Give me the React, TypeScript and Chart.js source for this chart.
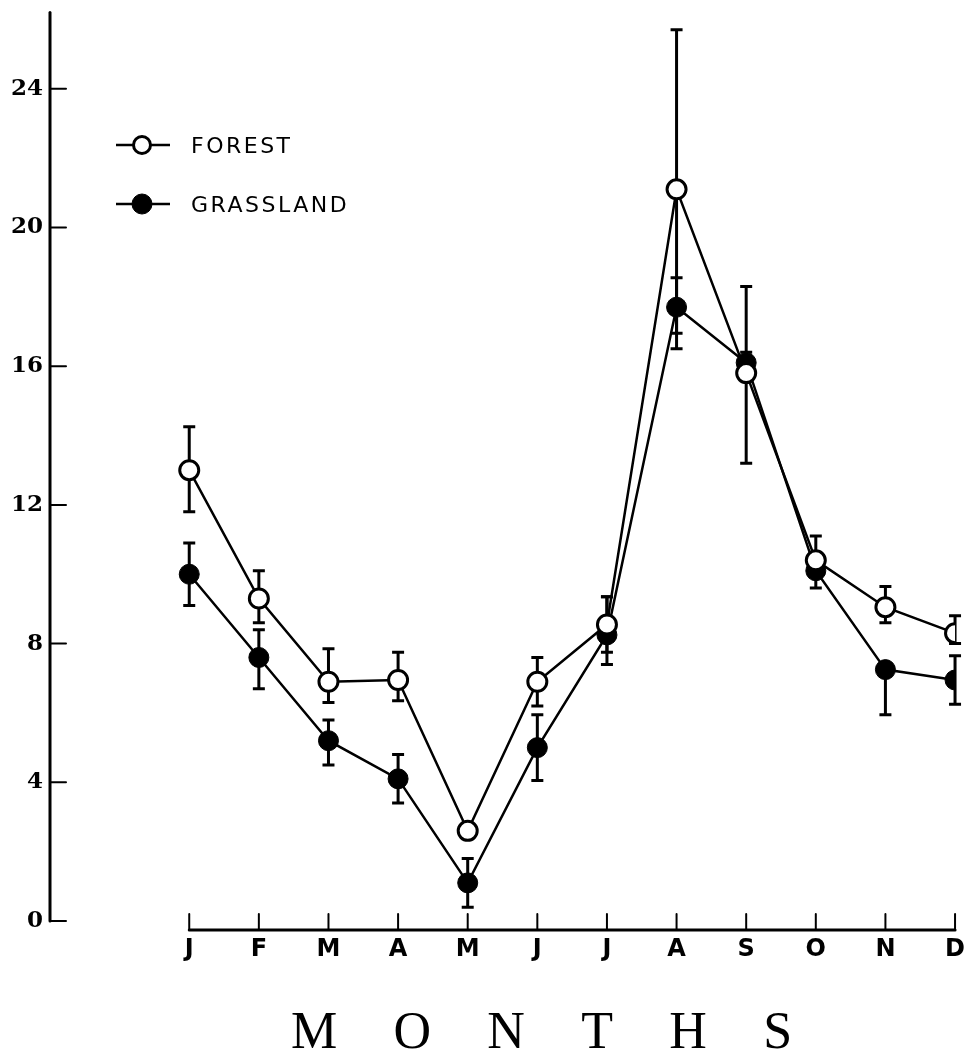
import React, { useEffect, useRef } from "react";
import { Chart, registerables } from "chart.js";

Chart.register(...registerables);

const months = ["J", "F", "M", "A", "M", "J", "J", "A", "S", "O", "N", "D"];
const yTicks = [0, 4, 8, 12, 16, 20, 24];
const yAxisTop = 26.2;
const xTitle = "\u2003\u2002M\u2003\u200AO\u2003\u200AN\u2003\u200AT\u2003\u200AH\u2003\u200AS";

const forest = [13.0, 9.3, 6.9, 6.95, 2.6, 6.9, 8.55, 21.1, 15.8, 10.4, 9.05, 8.3];
const forestErrHi = [1.25, 0.8, 0.95, 0.8, 0, 0.7, 0.8, 4.6, 2.5, 0.7, 0.6, 0.5];
const forestErrLo = [1.2, 0.7, 0.6, 0.6, 0, 0.7, 0.8, 4.6, 2.6, 0.3, 0.45, 0.3];

const grassland = [10.0, 7.6, 5.2, 4.1, 1.1, 5.0, 8.25, 17.7, 16.1, 10.1, 7.25, 6.95];
const grassErrHi = [0.9, 0.8, 0.6, 0.7, 0.7, 0.95, 1.1, 0.85, 0.3, 0.3, 0, 0.7];
const grassErrLo = [0.9, 0.9, 0.7, 0.7, 0.7, 0.95, 0.85, 0.75, 0.3, 0.5, 1.3, 0.7];

const seriesNames = ["FOREST", "GRASSLAND"];

const errHi = [forestErrHi, grassErrHi];
const errLo = [forestErrLo, grassErrLo];

const axesPlugin = {
  id: "handAxes",
  beforeDatasetsDraw(chart: any) {
    const { ctx, chartArea, scales } = chart;
    const x = scales.x;
    const y = scales.y;
    ctx.save();
    ctx.strokeStyle = "#000";
    ctx.lineCap = "round";
    const line = (x1: number, y1: number, x2: number, y2: number, w: number) => {
      ctx.lineWidth = w;
      ctx.beginPath();
      ctx.moveTo(x1, y1);
      ctx.lineTo(x2, y2);
      ctx.stroke();
    };
    const ax = chartArea.left;
    line(ax, y.getPixelForValue(yAxisTop), ax, y.getPixelForValue(0), 3);
    yTicks.forEach((t) => {
      const py = y.getPixelForValue(t);
      line(ax, py, ax + 16, py, 2);
    });
    const by = chartArea.bottom;
    line(x.getPixelForValue(0), by, x.getPixelForValue(months.length - 1), by, 3);
    months.forEach((_, i) => {
      const px = x.getPixelForValue(i);
      line(px, by, px, by - 16, 2);
    });
    ctx.restore();
  },
};

const errorBarPlugin = {
  id: "errorBars",
  beforeDatasetsDraw(chart: any) {
    const { ctx, scales } = chart;
    const x = scales.x;
    const y = scales.y;
    ctx.save();
    ctx.strokeStyle = "#000";
    ctx.lineCap = "butt";
    chart.data.datasets.forEach((ds: any, di: number) => {
      ds.data.forEach((pt: any, i: number) => {
        const hi = errHi[di][i];
        const lo = errLo[di][i];
        const px = x.getPixelForValue(pt.x);
        const py = y.getPixelForValue(pt.y);
        const top = y.getPixelForValue(pt.y + hi);
        const bot = y.getPixelForValue(pt.y - lo);
        ctx.lineWidth = 3;
        ctx.beginPath();
        if (hi > 0) {
          ctx.moveTo(px, py);
          ctx.lineTo(px, top);
          ctx.moveTo(px - 6, top);
          ctx.lineTo(px + 6, top);
        }
        if (lo > 0) {
          ctx.moveTo(px, py);
          ctx.lineTo(px, bot);
          ctx.moveTo(px - 6, bot);
          ctx.lineTo(px + 6, bot);
        }
        ctx.stroke();
      });
    });
    ctx.restore();
  },
};

const legendPlugin = {
  id: "handLegend",
  afterDraw(chart: any) {
    const { ctx } = chart;
    ctx.save();
    const rows = [
      { y: 145, fill: "#fff", r: 8.5, bw: 3 },
      { y: 204, fill: "#000", r: 10, bw: 1 },
    ];
    rows.forEach((row, i) => {
      ctx.strokeStyle = "#000";
      ctx.lineWidth = 2.5;
      ctx.beginPath();
      ctx.moveTo(116, row.y);
      ctx.lineTo(170, row.y);
      ctx.stroke();
      ctx.beginPath();
      ctx.arc(142, row.y, row.r, 0, Math.PI * 2);
      ctx.fillStyle = row.fill;
      ctx.fill();
      ctx.lineWidth = row.bw;
      ctx.stroke();
      ctx.fillStyle = "#000";
      ctx.font = "22px 'DejaVu Sans'";
      (ctx as any).letterSpacing = "2.5px";
      ctx.textBaseline = "middle";
      ctx.textAlign = "left";
      ctx.fillText(seriesNames[i], 191, row.y + 2);
    });
    ctx.restore();
  },
};

export default function App() {
  const ref = useRef<HTMLCanvasElement>(null);
  useEffect(() => {
    const chart = new Chart(ref.current as HTMLCanvasElement, {
      type: "line",
      data: {
        datasets: [
          {
            label: "Forest",
            data: forest.map((v, i) => ({ x: i, y: v })),
            borderColor: "#000",
            borderWidth: 2.5,
            pointRadius: 9.5,
            pointBackgroundColor: "#fff",
            pointBorderColor: "#000",
            pointBorderWidth: 3,
            tension: 0,
          },
          {
            label: "Grassland",
            data: grassland.map((v, i) => ({ x: i, y: v })),
            borderColor: "#000",
            borderWidth: 2.5,
            pointRadius: 10,
            pointBackgroundColor: "#000",
            pointBorderColor: "#000",
            pointBorderWidth: 1,
            tension: 0,
          },
        ],
      },
      options: {
        responsive: false,
        animation: false,
        layout: { padding: { top: 12, right: 10, left: 0, bottom: 0 } },
        plugins: {
          legend: { display: false },
          tooltip: { enabled: false },
        },
        scales: {
          x: {
            type: "linear",
            min: -2,
            max: 11,
            afterBuildTicks: (s: any) => {
              s.ticks = months.map((_, i) => ({ value: i }));
            },
            afterFit: (s: any) => {
              s.height = 124;
            },
            ticks: {
              callback: (v: any) => months[v as number],
              autoSkip: false,
              maxRotation: 0,
              padding: 5,
              color: "#000",
              font: { family: "'DejaVu Sans'", size: 24, weight: "bold" },
            },
            grid: { display: false, drawTicks: false },
            border: { display: false },
            title: {
              display: true,
              text: xTitle,
              color: "#000",
              font: { family: "'Liberation Serif'", size: 52 },
              padding: { top: 0, bottom: -12 },
            },
          },
          y: {
            type: "linear",
            min: -0.2593,
            max: 25.96,
            afterBuildTicks: (s: any) => {
              s.ticks = yTicks.map((v) => ({ value: v }));
            },
            afterFit: (s: any) => {
              s.width = 50;
            },
            ticks: {
              padding: 7,
              color: "#000",
              font: { family: "'DejaVu Serif'", size: 23, weight: "bold" },
            },
            grid: { display: false, drawTicks: false },
            border: { display: false },
          },
        },
      },
      plugins: [axesPlugin, errorBarPlugin, legendPlugin],
    } as any);
    return () => chart.destroy();
  }, []);
  return (
    <div style={{ position: "absolute", left: 0, top: 0, width: 970, height: 1054, background: "#fff" }}>
      <canvas ref={ref} width={970} height={1054} style={{ display: "block" }} />
    </div>
  );
}
